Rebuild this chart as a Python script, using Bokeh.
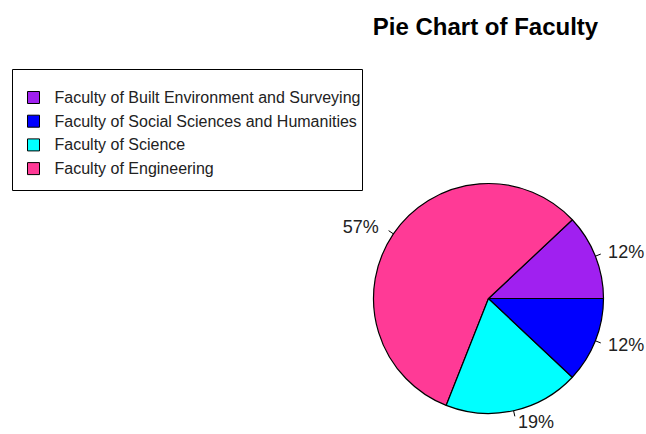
import numpy as np
from bokeh.plotting import figure
from bokeh.models import Range1d, ColumnDataSource
from bokeh.core.properties import value
from bokeh.embed import file_html
from bokeh.resources import INLINE

# ---- data ----
slice_names = ["Faculty of Built Environment and Surveying", "Faculty of Engineering",
               "Faculty of Science", "Faculty of Social Sciences and Humanities"]
slice_pct = [12, 57, 19, 12]
slice_colors = ["#A020F0", "#FF3A96", "#00FFFF", "#0000FF"]

legend_names = ["Faculty of Built Environment and Surveying",
                "Faculty of Social Sciences and Humanities",
                "Faculty of Science", "Faculty of Engineering"]
legend_colors = ["#A020F0", "#0000FF", "#00FFFF", "#FF3A96"]
title_text = "Pie Chart of Faculty"

FONT = "Liberation Sans"

# page coords: data x = screen x, data y = -screen y
W, H = 646, 434
p = figure(width=W, height=H, output_backend="svg", toolbar_location=None,
           x_range=Range1d(0, W), y_range=Range1d(-H, 0),
           x_axis_location=None, y_axis_location=None, min_border=0,
           outline_line_color=None, background_fill_color="white",
           border_fill_color="white")
p.grid.visible = False

# ---- pie ----
cx, cy, r = 488, -298, 115
vals = np.array(slice_pct, dtype=float)
fr = vals / vals.sum()
ends = np.cumsum(fr) * 2 * np.pi
starts = np.concatenate([[0], ends[:-1]])
src = ColumnDataSource(dict(start=starts, end=ends, color=slice_colors))
p.wedge(x=cx, y=cy, radius=r, start_angle="start", end_angle="end",
        direction="anticlock", fill_color="color", line_color="black",
        line_width=1.2, source=src)

mids = (starts + ends) / 2
lx0 = cx + r * np.cos(mids)
ly0 = cy + r * np.sin(mids)
lx1 = cx + 1.05 * r * np.cos(mids)
ly1 = cy + 1.05 * r * np.sin(mids)
p.segment(x0=lx0, y0=ly0, x1=lx1, y1=ly1, line_color="black", line_width=1)

tx = cx + 1.1 * r * np.cos(mids)
ty = cy + 1.1 * r * np.sin(mids)
labels = [f"{round(v * 100)}%" for v in fr]
align = ["left" if np.cos(m) > 0 else "right" for m in mids]
offs = [2 if np.cos(m) > 0 else -5 for m in mids]
p.text(x=tx, y=ty, text=labels, text_align=align, x_offset=offs,
       text_baseline="middle", text_font=value(FONT), text_font_size="18px",
       text_color="#222222")

# ---- title ----
p.text(x=[cx - 3], y=[-26], text=[title_text], text_align="center",
       text_baseline="middle", text_font=value(FONT), text_font_size="24px",
       text_font_style="bold", text_color="black")

# ---- legend ----
bx0, bx1, by0, by1 = 12, 362, -69, -190
p.quad(left=bx0, right=bx1, top=by0, bottom=by1, fill_color="white",
       line_color="black", line_width=1)
row_y = [-97 - 23.7 * i for i in range(len(legend_names))]
p.scatter(x=[33] * len(legend_names), y=row_y, marker="square", size=12,
          fill_color=legend_colors, line_color="black", line_width=1)
p.text(x=[54] * len(legend_names), y=row_y, text=legend_names,
       text_baseline="middle", text_font=value(FONT), text_font_size="16px",
       text_color="#222222")

open("out.html", "w").write(file_html(p, INLINE))
